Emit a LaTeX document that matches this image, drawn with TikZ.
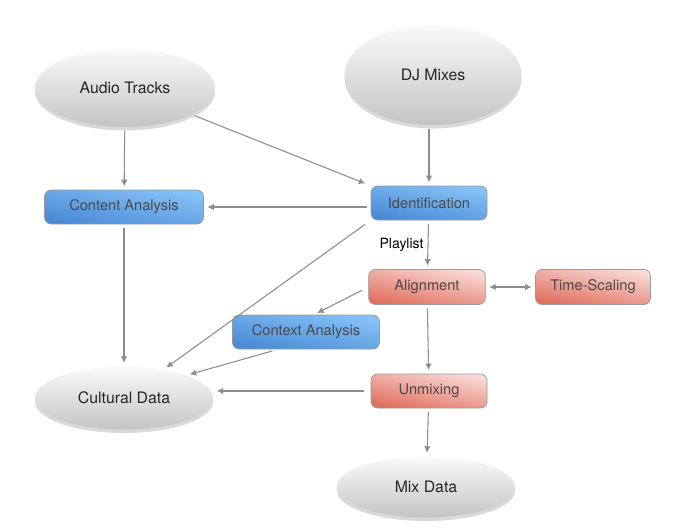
\documentclass[tikz,border=0pt]{standalone}
\usepackage{fontspec}
\setmainfont{TeX Gyre Heros}
\usetikzlibrary{shapes.geometric}
\usetikzlibrary{arrows.meta}
\usetikzlibrary{shadows}
\definecolor{blobtop}{HTML}{FAFAFA}
\definecolor{blobbot}{HTML}{C4C4C4}
\definecolor{bluetop}{HTML}{86C2F7}
\definecolor{bluebot}{HTML}{4A8BD6}
\definecolor{redtop}{HTML}{F9DAD6}
\definecolor{redbot}{HTML}{E0705F}
\definecolor{boxline}{HTML}{9A9A9A}
\definecolor{boxtext}{HTML}{4A4A4A}
\definecolor{linegray}{HTML}{8C8C8C}
\tikzset{blob/.style={ellipse, inner sep=0pt, shade, top color=blobtop, bottom color=blobbot,
drop shadow={shadow xshift=0pt, shadow yshift=-3pt, opacity=.25, fill=black!60},
font=\fontsize{13.5}{16}\selectfont, text=black!85},
box/.style={rectangle, rounded corners=0.2cm, draw=boxline, line width=0.6pt,
font=\fontsize{12.5}{15}\selectfont, text=boxtext, minimum height=1.02cm},
bluebox/.style={box, shade, top color=bluetop, bottom color=bluebot, shading angle=-12},
redbox/.style={box, shade, top color=redtop, bottom color=redbot, shading angle=-12},
conn/.style={draw=linegray, line width=0.9pt, -{Latex[length=5.5pt,width=5.5pt]},
shorten >=3pt, shorten <=3pt}}

\begin{document}
\begin{tikzpicture}[x=0.03cm, y=-0.03cm]
	\useasboundingbox (0,0) rectangle (681,529);
	% sources
	\node[blob, minimum width=5.4cm, minimum height=2.34cm] (tracks) at (125,88) {Audio Tracks};
	\node[blob, minimum width=5.31cm, minimum height=3cm] (mixes) at (433,75) {DJ Mixes};
	% processing steps
	\node[bluebox, minimum width=4.77cm] (content) at (124,207) {Content Analysis};
	\node[bluebox, minimum width=3.48cm] (ident) at (429,203) {Identification};
	\node[redbox, minimum width=3.5cm, minimum height=1.05cm] (align) at (427,287) {Alignment};
	\node[redbox, minimum width=3.45cm, minimum height=1.05cm] (stretch) at (593,287) {Time-Scaling};
	\node[bluebox, minimum width=4.41cm] (context) at (306,332) {Context Analysis};
	\node[redbox, minimum width=3.48cm] (unmix) at (429,391) {Unmixing};
	% outputs
	\node[blob, minimum width=5.34cm, minimum height=1.89cm] (culture) at (124,398) {Cultural Data};
	\node[blob, minimum width=5.34cm, minimum height=1.83cm] (mixdata) at (426,487) {Mix Data};

	\draw[conn] (tracks) -- (content);
	\draw[conn, shorten >=5pt] (tracks) -- (ident.north west);
	\draw[conn] (ident.north |- mixes.south) -- (ident.north);
	\draw[conn] (ident.west |- content.east) -- (content.east);
	\draw[conn, shorten <=6pt] (ident.south west) -- (culture);
	\draw[conn] (ident) -- node[midway, left, text=black, font=\fontsize{12}{14}\selectfont] {Playlist} (align);
	\draw[conn, {Latex[length=5.5pt,width=5.5pt]}-{Latex[length=5.5pt,width=5.5pt]}] (align) -- (stretch);
	\draw[conn, shorten <=6pt] (align.west) -- ([xshift=0.24cm]context.north);
	\draw[conn] (content) -- (culture);
	\draw[conn, shorten <=5pt] ([xshift=-0.84cm]context.south) -- (culture.20);
	\draw[conn] (align) -- (unmix);
	\draw[conn, shorten <=6pt] (unmix.west) -- (unmix.west -| culture.east);
	\draw[conn] (unmix) -- (mixdata);
\end{tikzpicture}
\end{document}
